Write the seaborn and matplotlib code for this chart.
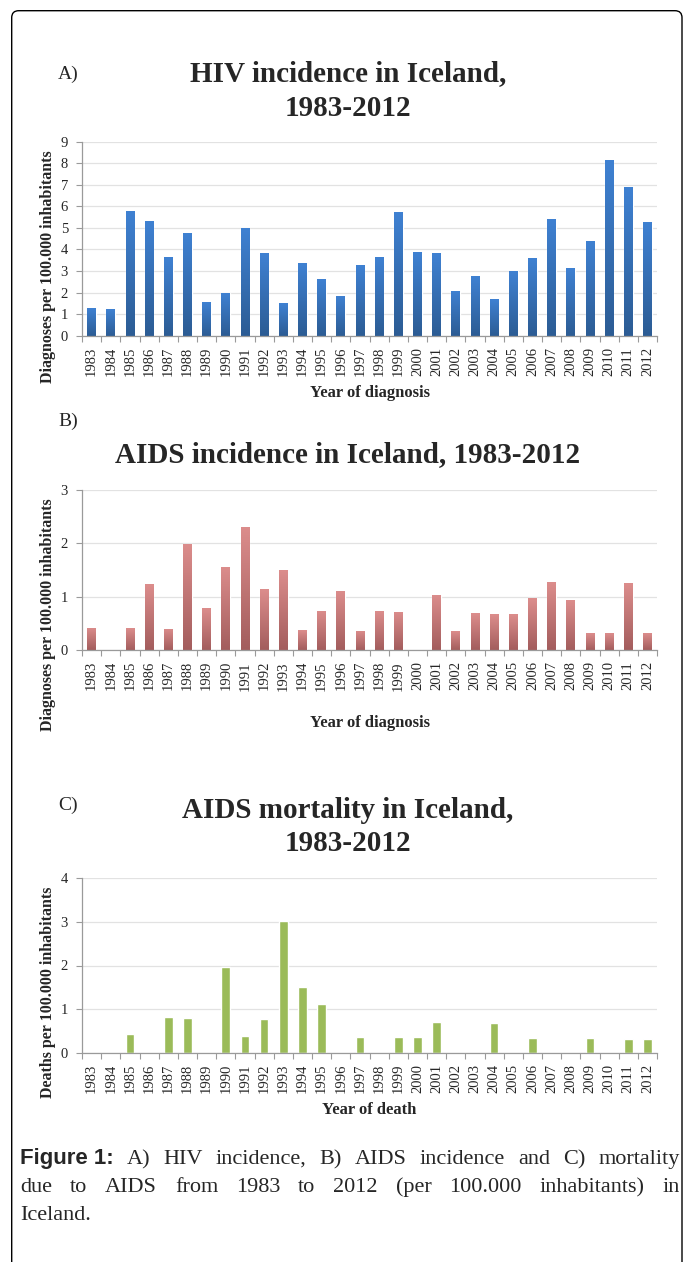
import numpy as np
import matplotlib
matplotlib.use("Agg")
import matplotlib.pyplot as plt
import matplotlib.transforms as mtransforms
from matplotlib.patches import FancyBboxPatch
from matplotlib.colors import LinearSegmentedColormap
import seaborn as sns

# data (per 100.000 inhabitants)
years = [str(y) for y in range(1983, 2013)]
hiv_incidence = [1.27, 1.24, 5.78, 5.32, 3.63, 4.76, 1.56, 1.96, 5.01, 3.82,
                 1.52, 3.37, 2.61, 1.86, 3.29, 3.63, 5.74, 3.88, 3.83, 2.09,
                 2.75, 1.70, 3.00, 3.59, 5.40, 3.14, 4.41, 8.16, 6.90, 5.27]
aids_incidence = [0.42, 0.0, 0.41, 1.23, 0.40, 1.99, 0.78, 1.56, 2.31, 1.14,
                  1.50, 0.375, 0.74, 1.11, 0.36, 0.73, 0.72, 0.0, 1.04, 0.35,
                  0.69, 0.675, 0.67, 0.975, 1.27, 0.93, 0.31, 0.31, 1.25, 0.31]
aids_mortality = [0.0, 0.0, 0.42, 0.0, 0.82, 0.80, 0.0, 1.96, 0.39, 0.77,
                  3.02, 1.50, 1.12, 0.0, 0.37, 0.0, 0.36, 0.36, 0.70, 0.0,
                  0.0, 0.69, 0.0, 0.34, 0.0, 0.0, 0.33, 0.0, 0.32, 0.32]

W, H = 683, 1262
sns.set_theme(style="white")
plt.rcParams['font.family'] = ['Liberation Serif', 'DejaVu Serif']

fig = plt.figure(figsize=(W / 100, H / 100), dpi=100)

AX_LEFT, AX_RIGHT = 82, 657


def px_rect(top, bottom):
    # axes rectangle from pixel rows
    return [AX_LEFT / W, 1 - bottom / H, (AX_RIGHT - AX_LEFT) / W, (bottom - top) / H]


def shade_bars(ax, bottom_color, top_color):
    # vertical gradient inside every bar, darker at the base
    cmap = LinearSegmentedColormap.from_list("bar", [bottom_color, top_color])
    grad = np.linspace(0, 1, 100).reshape(-1, 1)
    for bar in ax.patches:
        h = bar.get_height()
        if h <= 0:
            continue
        x0, w = bar.get_x(), bar.get_width()
        im = ax.imshow(grad, cmap=cmap, extent=(x0, x0 + w, 0, h), origin="lower",
                       aspect="auto", zorder=bar.get_zorder() + 0.1)
        im.set_clip_path(bar)


def draw_panel(top, bottom, values, ymax, color, ylabel, xlabel, ylab_y, xlab_y, shade=None):
    ax = fig.add_axes(px_rect(top, bottom))
    sns.barplot(x=years, y=values, color=color, width=0.45, saturation=1, ax=ax)
    if shade is not None:
        shade_bars(ax, *shade)
    ax.set_xlim(-0.5, len(years) - 0.5)
    ax.set_ylim(0, ymax)
    ax.set_yticks(range(0, ymax + 1))
    ax.yaxis.grid(True, color="#e2e2e2", linewidth=0.9)
    ax.set_axisbelow(True)
    for side in ["top", "right"]:
        ax.spines[side].set_visible(False)
    for side in ["left", "bottom"]:
        ax.spines[side].set_color("#9a9a9a")
        ax.spines[side].set_linewidth(0.9)
    # category boundary ticks, Excel style
    ax.set_xticks(np.arange(-0.5, len(years)), minor=True)
    ax.tick_params(axis="x", which="minor", length=4, color="#9a9a9a", width=0.8, bottom=True)
    ax.tick_params(axis="x", which="major", length=0, pad=8, labelsize=10.5, labelrotation=90)
    ax.tick_params(axis="y", length=4, color="#9a9a9a", width=0.8, left=True, pad=6, labelsize=10.5)
    for lab in ax.get_xticklabels():
        lab.set_va("top")
    ax.set_ylabel(ylabel, fontsize=11.5, fontweight="bold", va="center")
    ax.yaxis.set_label_coords((48 - AX_LEFT) / (AX_RIGHT - AX_LEFT), (bottom - ylab_y) / (bottom - top))
    ax.set_xlabel(xlabel, fontsize=12, fontweight="bold", va="center")
    ax.xaxis.set_label_coords(0.5, (bottom - xlab_y) / (bottom - top))
    return ax


def fig_text(x, y, s, **kw):
    return fig.text(x / W, 1 - y / H, s, **kw)


title_kw = dict(fontsize=21, fontweight="bold", ha="center", va="baseline")
label_kw = dict(fontsize=14, ha="left", va="baseline")
TCX = 348

# A) HIV incidence
fig_text(58, 79, "A)", **label_kw)
fig_text(TCX, 81, "HIV incidence in Iceland,", **title_kw)
fig_text(TCX, 116, "1983-2012", **title_kw)
draw_panel(141.7, 335.7, hiv_incidence, 9, "#3a79c8",
           "Diagnoses per 100.000 inhabitants", "Year of diagnosis", 266.7, 393,
           shade=("#2c5c94", "#3f81d2"))

# B) AIDS incidence
fig_text(58, 426, "B)", **label_kw)
fig_text(TCX, 462, "AIDS incidence in Iceland, 1983-2012", **title_kw)
draw_panel(490, 650, aids_incidence, 3, "#d48584",
           "Diagnoses per 100.000 inhabitants", "Year of diagnosis", 615, 723,
           shade=("#a35d5d", "#dc8d8c"))

# C) AIDS mortality
fig_text(58, 810, "C)", **label_kw)
fig_text(TCX, 818, "AIDS mortality in Iceland,", **title_kw)
fig_text(TCX, 851, "1983-2012", **title_kw)
draw_panel(878.3, 1052.7, aids_mortality, 4, "#9bbb59",
           "Deaths per 100.000 inhabitants", "Year of death", 992.5, 1110)

# caption, justified over the first two lines
renderer = fig.canvas.get_renderer()
cap_left, cap_right = 20, 680
cap_size = 16
bold_kw = dict(fontsize=cap_size, fontweight="bold",
               family=["Liberation Sans Narrow", "Liberation Sans", "DejaVu Sans"])
plain_kw = dict(fontsize=cap_size)
caption_lines = [
    [("Figure 1:", bold_kw), ("A)", plain_kw), ("HIV", plain_kw), ("incidence,", plain_kw),
     ("B)", plain_kw), ("AIDS", plain_kw), ("incidence", plain_kw), ("and", plain_kw),
     ("C)", plain_kw), ("mortality", plain_kw)],
    [(w, plain_kw) for w in "due to AIDS from 1983 to 2012 (per 100.000 inhabitants) in".split()],
    [("Iceland.", plain_kw)],
]
baselines = [1164, 1192, 1220]
for words, base in zip(caption_lines, baselines):
    texts = [fig_text(0, base, w, va="baseline", ha="left", **kw) for w, kw in words]
    widths = [t.get_window_extent(renderer).width for t in texts]
    if len(texts) > 1:
        gap = (cap_right - cap_left - sum(widths)) / (len(texts) - 1)
    else:
        gap = 0
    x = cap_left
    for t, wd in zip(texts, widths):
        t.set_x(x / W)
        x += wd + gap

# frame around the figure, running off the right and bottom edges
frame = FancyBboxPatch((11.7, -30), 682 - 11.7, (H - 10.7) + 30,
                       boxstyle="round,pad=0,rounding_size=7",
                       transform=mtransforms.IdentityTransform(),
                       facecolor="none", edgecolor="black", linewidth=1.0)
fig.add_artist(frame)

fig.savefig("out.png", dpi=100)
